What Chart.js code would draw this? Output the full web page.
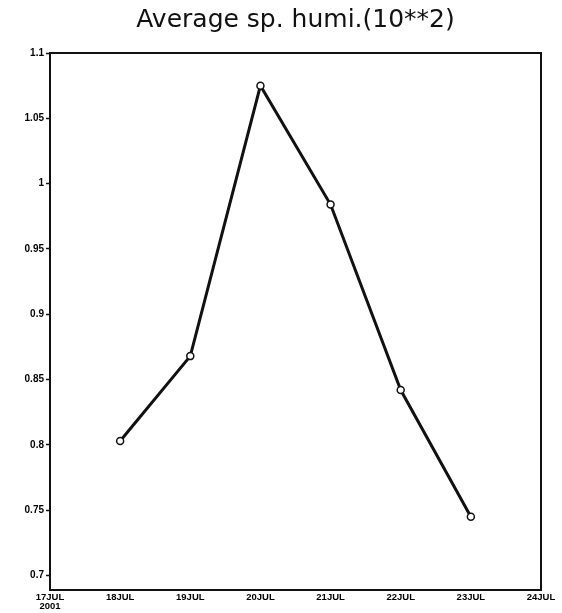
<!DOCTYPE html>
<html>
<head>
<meta charset="utf-8">
<script src="https://cdn.jsdelivr.net/npm/chart.js@4.4.1/dist/chart.umd.min.js"></script>
<style>
  html, body { margin: 0; padding: 0; background: #fff; }
  #wrap { width: 562px; height: 613px; }
</style>
</head>
<body>
<div id="wrap"><canvas id="c" width="562" height="613"></canvas></div>
<script>
const titleText = 'Average sp. humi.(10**2)';
const categories = ['17JUL', '18JUL', '19JUL', '20JUL', '21JUL', '22JUL', '23JUL', '24JUL'];
const yearLabel = '2001';
const humidity = [null, 0.803, 0.868, 1.075, 0.984, 0.842, 0.745, null];
const yTickValues = [0.7, 0.75, 0.8, 0.85, 0.9, 0.95, 1, 1.05, 1.1];
const yTickLabels = ['0.7', '0.75', '0.8', '0.85', '0.9', '0.95', '1', '1.05', '1.1'];

const frame = {
  id: 'frame',
  afterDatasetsDraw(chart) {
    const a = chart.chartArea, ctx = chart.ctx;
    ctx.save();
    ctx.strokeStyle = '#111';
    ctx.lineWidth = 2;
    ctx.strokeRect(a.left, a.top, a.right - a.left, a.bottom - a.top);
    ctx.restore();
  }
};

new Chart(document.getElementById('c'), {
  type: 'line',
  data: {
    labels: categories,
    datasets: [{
      data: humidity,
      borderColor: '#111',
      borderWidth: 3,
      tension: 0,
      spanGaps: false,
      pointRadius: 3.5,
      pointBackgroundColor: '#fff',
      pointBorderColor: '#111',
      pointBorderWidth: 1.5
    }]
  },
  options: {
    responsive: false,
    animation: false,
    layout: { padding: { left: 0, right: 21, top: 0, bottom: 0 } },
    plugins: {
      legend: { display: false },
      tooltip: { enabled: false },
      title: {
        display: true,
        text: titleText,
        fullSize: false,
        color: '#111',
        font: { family: 'DejaVu Sans', size: 25, weight: 'normal', lineHeight: 1.2 },
        padding: { top: 5, bottom: 18 }
      }
    },
    scales: {
      x: {
        offset: false,
        grid: { display: false, drawTicks: false },
        border: { display: false },
        afterFit(s) { s.height = 23; },
        ticks: {
          autoSkip: false,
          maxRotation: 0,
          padding: 3,
          color: '#000',
          font: { family: 'Liberation Sans', size: 9.5, weight: 'bold', lineHeight: 0.95 },
          callback(v, i) { return i === 0 ? [categories[i], yearLabel] : categories[i]; }
        }
      },
      y: {
        min: 0.689,
        max: 1.1,
        afterBuildTicks(s) { s.ticks = yTickValues.map(v => ({ value: v })); },
        afterFit(s) { s.width = 50; },
        grid: { drawOnChartArea: false, drawTicks: true, tickLength: 4, color: '#111', tickWidth: 1.5 },
        border: { display: false },
        ticks: {
          padding: 2,
          color: '#000',
          font: { family: 'Liberation Sans', size: 10, weight: 'bold' },
          callback(v) { const i = yTickValues.indexOf(v); return i >= 0 ? yTickLabels[i] : ''; }
        }
      }
    }
  },
  plugins: [frame]
});
</script>
</body>
</html>
